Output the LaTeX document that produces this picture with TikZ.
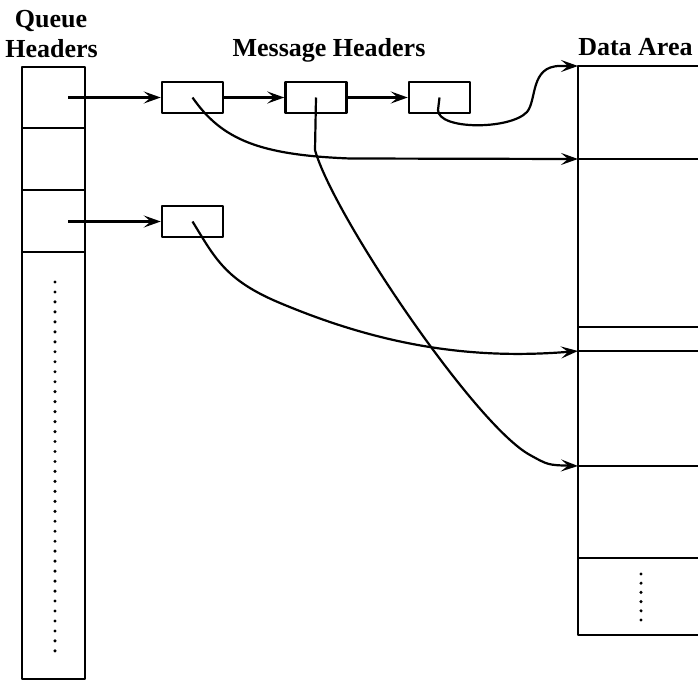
\documentclass[tikz,border=0pt]{standalone}
\usepackage{fontspec}
\setmainfont{Liberation Serif}
\usetikzlibrary{arrows.meta}
\tikzset{
  ptr/.style={-{Stealth[length=17pt,width=12pt,inset=7pt]}, line width=2.2pt},
  msgbox/.style={draw, line width=2.5pt, minimum width=61pt, minimum height=31pt, inner sep=0pt},
  lbl/.style={font=\bfseries\fontsize{26}{30}\selectfont, anchor=base, inner sep=0pt},
}
\begin{document}
\begin{tikzpicture}[x=1pt, y=-1pt, line width=2.5pt, line join=round]
    \useasboundingbox (0,0) rectangle (698,682);

    % Queue Headers
    \node[lbl] (qtop) at (51,28) {Queue};
    \node[lbl] (qbot) at (51.5,58) {Headers};
    \draw (22,67) rectangle (85,679);
    \foreach \y in {128,190,252} \draw (22,\y) -- (85,\y);
    \foreach \i in {0,...,37} \fill (55,282+\i*9.97) circle (1.7pt);
    \coordinate (qp1) at (68,97.5);
    \coordinate (qp3) at (68,221.5);

    % Message Headers
    \node[lbl] (mlbl) at (329,57) {Message Headers};
    \node[msgbox] (m1) at (192.5,97.5) {};
    \node[msgbox] (m2) at (316,97.5) {};
    \node[msgbox] (m3) at (439.5,97.5) {};
    \node[msgbox] (m4) at (192.5,221.5) {};

    % Data Area
    \node[lbl, anchor=base west] (dlbl) at (577,56) {Data Area};
    \draw (698,66) -- (578,66) -- (578,635) -- (698,635);
    \foreach \y in {159,327,351,466,558} \draw (578,\y) -- (698,\y);
    \foreach \i in {0,...,5} \fill (641,574+\i*9.2) circle (1.7pt);
    \coordinate (d0) at (578,66);
    \coordinate (d1) at (578,159);
    \coordinate (d3) at (578,351);
    \coordinate (d4) at (578,466);

    % Links
    \draw[ptr] (qp1) -- (m1);
    \draw[ptr] (qp3) -- (m4);
    \draw[ptr] (m1) -- (m2);
    \draw[ptr] (m2) -- (m3);

    % Data pointers
    \draw[ptr] (m1.center) .. controls (222,140) and (260,155) .. (350,158.5) -- (d1);
    \draw[ptr] (m2.center) -- (315,150) .. controls (333,215) and (475,425) .. (530,455)
        .. controls (548,465) .. (d4);
    \draw[ptr] (m3.center) -- (438,110) .. controls (438,130) and (510,130) .. (527,112)
        .. controls (537,100) and (530,66) .. (560,66) -- (d0);
    \draw[ptr] (m4.center) .. controls (215,258) and (225,280) .. (280,303)
        .. controls (380,345) and (470,360) .. (d3);
\end{tikzpicture}
\end{document}
